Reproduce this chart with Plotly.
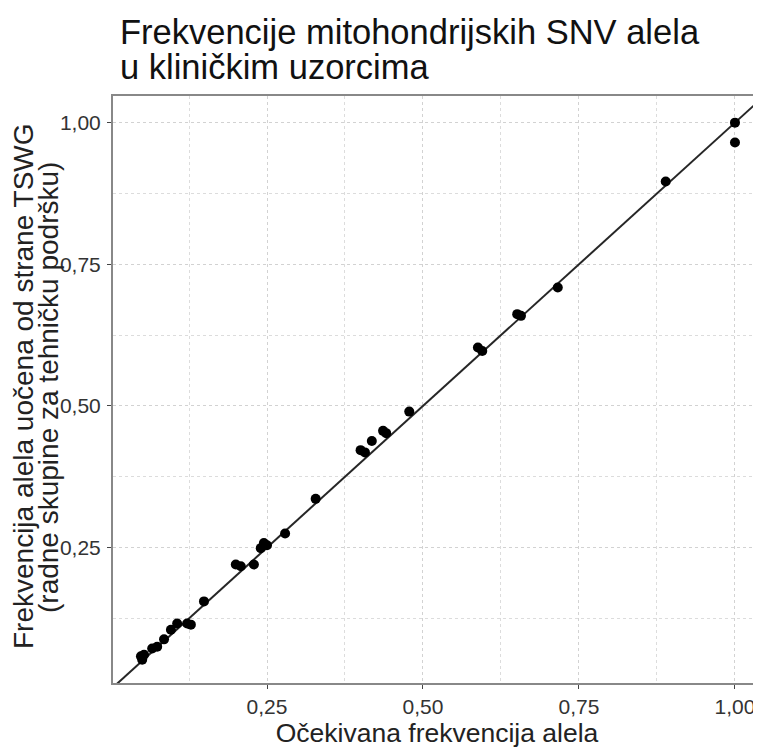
import plotly.graph_objects as go

expected = [0.048, 0.050, 0.053, 0.066, 0.074, 0.085, 0.096, 0.106, 0.122, 0.128,
            0.149, 0.200, 0.208, 0.229, 0.240, 0.245, 0.250, 0.279, 0.328,
            0.400, 0.407, 0.418, 0.436, 0.441, 0.478,
            0.588, 0.595, 0.651, 0.657, 0.716, 0.889, 1.000, 1.000]
observed = [0.058, 0.052, 0.061, 0.072, 0.075, 0.088, 0.105, 0.116, 0.116, 0.114,
            0.155, 0.220, 0.217, 0.220, 0.249, 0.258, 0.254, 0.275, 0.336,
            0.422, 0.418, 0.438, 0.456, 0.452, 0.490,
            0.603, 0.597, 0.662, 0.659, 0.709, 0.896, 1.000, 0.965]

ref_line = [0.0, 1.1]
tick_vals = [0.25, 0.50, 0.75, 1.00]
tick_text = ["0,25", "0,50", "0,75", "1,00"]
title_lines = ["Frekvencije mitohondrijskih SNV alela", "u kliničkim uzorcima"]
y_title_lines = ["Frekvencija alela uočena od strane TSWG",
                 "(radne skupine za tehničku podršku)"]
x_title = "Očekivana frekvencija alela"

FONT = "Liberation Sans, Arial, sans-serif"
# page body has an 8px margin, so the figure is sized to fill the rest of the window
W, H = 753, 742
L, R, T, B = 105, 0, 88, 67
PW, PH = W - L - R, H - T - B

fig = go.Figure()
fig.add_trace(go.Scatter(x=ref_line, y=ref_line, mode="lines",
                         line=dict(color="#262626", width=2), hoverinfo="skip",
                         showlegend=False))
fig.add_trace(go.Scatter(x=expected, y=observed, mode="markers",
                         marker=dict(color="black", size=10),
                         showlegend=False))

grid = dict(showgrid=True, gridcolor="#d2d2d2", griddash="dot", gridwidth=1,
            minor=dict(showgrid=True, gridcolor="#dcdcdc", griddash="dot",
                       gridwidth=1, tickvals=[0.125, 0.375, 0.625, 0.875]))

fig.update_xaxes(range=[0.0032, 1.0417], tickvals=tick_vals, ticktext=tick_text,
                 ticks="outside", ticklen=4, tickcolor="#444", tickwidth=1,
                 showline=True, linecolor="#888", linewidth=2, mirror=True,
                 zeroline=False, automargin=False,
                 tickfont=dict(size=21, color="#333", family=FONT),
                 title=dict(text=x_title,
                            font=dict(size=26.5, color="#222", family=FONT), standoff=5),
                 **grid)
fig.update_yaxes(range=[0.011, 1.047], tickvals=tick_vals, ticktext=tick_text,
                 ticks="outside", ticklen=4, tickcolor="#444", tickwidth=1,
                 ticklabelstandoff=2,
                 showline=True, linecolor="#888", linewidth=2, mirror=False,
                 zeroline=False, automargin=False,
                 tickfont=dict(size=21, color="#333", family=FONT),
                 **grid)

def px_x(p):
    return (p - L) / PW

def px_y(p):
    return 1 - (p - T) / PH

annotations = [
    dict(text=title_lines[0], x=px_x(110), y=px_y(3), xref="paper", yref="paper",
         xanchor="left", yanchor="top", showarrow=False,
         font=dict(size=34.5, color="#111", family=FONT)),
    dict(text=title_lines[1], x=px_x(110), y=px_y(38), xref="paper", yref="paper",
         xanchor="left", yanchor="top", showarrow=False,
         font=dict(size=34.5, color="#111", family=FONT)),
    dict(text=y_title_lines[0], x=px_x(16), y=px_y(378), xref="paper", yref="paper",
         xanchor="center", yanchor="middle", textangle=-90, showarrow=False,
         font=dict(size=28, color="#222", family=FONT)),
    dict(text=y_title_lines[1], x=px_x(41), y=px_y(380), xref="paper", yref="paper",
         xanchor="center", yanchor="middle", textangle=-90, showarrow=False,
         font=dict(size=28, color="#222", family=FONT)),
]

fig.update_layout(
    width=W, height=H,
    margin=dict(l=L, r=R, t=T, b=B),
    paper_bgcolor="white", plot_bgcolor="white",
    annotations=annotations,
    font=dict(family=FONT),
)

fig.write_html("out.html")
